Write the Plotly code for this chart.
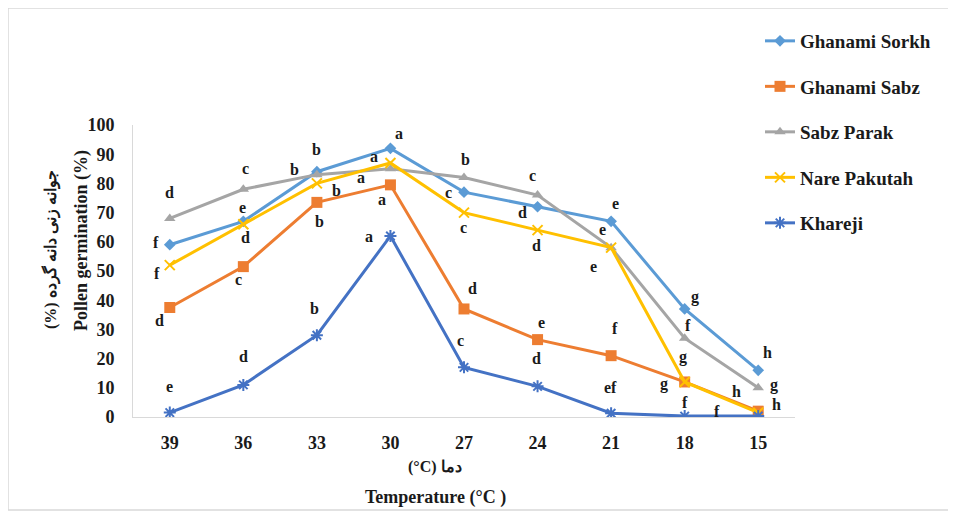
import plotly.graph_objects as go

# ---- data ----
temperatures = ["39", "36", "33", "30", "27", "24", "21", "18", "15"]
series_names = ["Ghanami Sorkh", "Ghanami Sabz", "Sabz Parak", "Nare Pakutah", "Khareji"]
ghanami_sorkh = [59, 67, 84, 92, 77, 72, 67, 37, 16]
ghanami_sabz = [37.5, 51.5, 73.5, 79.5, 37, 26.5, 21, 12, 2]
sabz_parak = [68, 78, 83, 85, 82, 76, 58, 27, 10]
nare_pakutah = [52, 66, 80, 87, 70, 64, 58, 12, 1.5]
khareji = [1.5, 11, 28, 62, 17, 10.5, 1.3, 0.3, 0.3]

letters_sorkh = ["f", "e", "b", "a", "c", "d", "e", "g", "h"]
letters_sabz = ["d", "c", "b", "a", "d", "e", "f", "g", "h"]
letters_parak = ["d", "c", "b", "a", "b", "c", "e", "f", "g"]
letters_nare = ["f", "d", "b", "a", "c", "d", "e", "g", "h"]
letters_khareji = ["e", "d", "b", "a", "c", "d", "ef", "f", "f"]

y_ticks = [0, 10, 20, 30, 40, 50, 60, 70, 80, 90, 100]

# ---- styling (pixel offsets of the letter labels) ----
off_sorkh = [(-14, -2), (-1, -14), (0, -22), (9, -15), (-16, 0), (-15, 6), (4, -18), (10, -12), (9, -18)]
off_sabz = [(-10, 13), (-5, 13), (3, 19), (-8, 15), (8, -20), (4, -17), (4, -27), (-21, 2), (18, -7)]
off_parak = [(0, -26), (2, -21), (-22, -5), (-29, 9), (1, -18), (-5, -20), (-9, -18), (3, -13), (16, -3)]
off_nare = [(-13, 8), (2, 13), (20, 7), (-16, -6), (-1, 15), (-1, 15), (-18, 19), (-2, -25), (-22, -21)]
off_khareji = [(0, -26), (0, -28), (-2, -27), (-21, 1), (-4, -27), (-1, -28), (-1, -26), (0, -14), (-41, -5)]

colors = ["#5B9BD5", "#ED7D31", "#A5A5A5", "#FFC000", "#4472C4"]
symbols = ["diamond", "square", "triangle-up", "x-thin-open", "asterisk-open"]
msizes = [9, 11, 10, 10, 10]

values = [ghanami_sorkh, ghanami_sabz, sabz_parak, nare_pakutah, khareji]
letters = [letters_sorkh, letters_sabz, letters_parak, letters_nare, letters_khareji]
offsets = [off_sorkh, off_sabz, off_parak, off_nare, off_khareji]

SERIF = "Liberation Serif"
TXT = "#1a1a1a"

fig = go.Figure()
for i, name in enumerate(series_names):
    fig.add_trace(go.Scatter(
        x=temperatures, y=values[i], name=name, mode="lines+markers",
        legendgroup=name,
        line=dict(color=colors[i], width=3),
        marker=dict(symbol=symbols[i], size=msizes[i], color=colors[i],
                    line=dict(color=colors[i], width=2 if i >= 3 else 0)),
    ))

annotations = []
for i in range(len(series_names)):
    for j in range(len(temperatures)):
        dx, dy = offsets[i][j]
        annotations.append(dict(
            x=j, y=values[i][j], xref="x", yref="y", text="<b>" + letters[i][j] + "</b>",
            showarrow=False, xshift=dx, yshift=-dy,
            xanchor="center", yanchor="middle",
            font=dict(family=SERIF, size=16, color=TXT),
        ))

# axis titles as annotations (positions in screen px -> paper)
def px(xs):
    return (xs - 133) / 662

def py(ys):
    return (417 - ys) / 292

title_common = dict(xref="paper", yref="paper", showarrow=False,
                    xanchor="center", yanchor="middle")
annotations += [
    dict(text="<b>Pollen germination (%)</b>", x=px(81), y=py(241), textangle=-90,
         font=dict(family=SERIF, size=18, color=TXT), **title_common),
    dict(text="<b>(%) جوانه زنی دانه گرده</b>", x=px(51), y=py(250), textangle=-90,
         font=dict(family=SERIF, size=16, color=TXT), **title_common),
    dict(text="<b>(°C) دما</b>", x=px(435), y=py(467),
         font=dict(family=SERIF, size=16, color=TXT), **title_common),
    dict(text="<b>Temperature (°C )</b>", x=px(435), y=py(497),
         font=dict(family=SERIF, size=18, color=TXT), **title_common),
]

fig.update_layout(
    width=956, height=512,
    margin=dict(l=125, r=169, t=117, b=103),
    paper_bgcolor="white", plot_bgcolor="white",
    showlegend=True,
    legend=dict(
        x=px(760), xanchor="left",
        y=py(22), yanchor="top",
        tracegroupgap=17.8,
        font=dict(family=SERIF, size=19, color=TXT, weight="bold"),
        bgcolor="rgba(0,0,0,0)",
    ),
    annotations=annotations,
    shapes=[dict(type="rect", xref="paper", yref="paper",
                 x0=px(8), x1=px(975), y0=py(510), y1=py(8),
                 line=dict(color="#D9D9D9", width=1.5))],
    xaxis=dict(
        type="category", range=[-0.5, 8.5], showgrid=False, zeroline=False,
        showline=True, linecolor="#D9D9D9", linewidth=1, ticks="",
        tickfont=dict(family=SERIF, size=18, color=TXT, weight="bold"),
        ticklabelstandoff=9,
    ),
    yaxis=dict(
        range=[0, 100], tickvals=y_ticks, showgrid=False, zeroline=False,
        showline=True, linecolor="#D9D9D9", linewidth=1, ticks="",
        tickfont=dict(family=SERIF, size=18, color=TXT, weight="bold"),
        ticklabelstandoff=14,
    ),
)

fig.write_html("out.html")
